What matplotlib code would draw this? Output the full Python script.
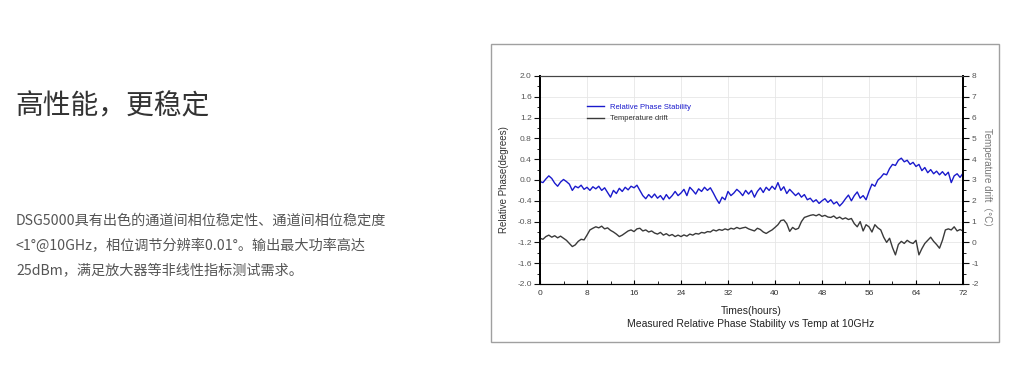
import numpy as np
import matplotlib
matplotlib.use('Agg')
import matplotlib.pyplot as plt
from matplotlib.patches import Rectangle

plt.rcParams['font.family'] = ['Liberation Sans', 'Noto Sans CJK SC', 'DejaVu Sans']
plt.rcParams['axes.unicode_minus'] = False
cjk = ['Noto Sans CJK SC', 'DejaVu Sans']

# sampled every half hour, 0..72 h
hours = np.arange(0, 72.5, 0.5)

phase = [-0.03, -0.05, 0.02, 0.08, 0.03, -0.06, -0.12, -0.04, 0.01, -0.03,
         -0.08, -0.20, -0.12, -0.15, -0.10, -0.18, -0.14, -0.20, -0.13, -0.17,
         -0.12, -0.20, -0.15, -0.24, -0.33, -0.20, -0.26, -0.16, -0.22, -0.14,
         -0.19, -0.12, -0.15, -0.10, -0.20, -0.30, -0.36, -0.28, -0.34, -0.27,
         -0.35, -0.30, -0.38, -0.28, -0.36, -0.30, -0.22, -0.30, -0.25, -0.18,
         -0.30, -0.14, -0.20, -0.27, -0.17, -0.22, -0.14, -0.20, -0.15, -0.25,
         -0.36, -0.45, -0.33, -0.38, -0.22, -0.30, -0.25, -0.18, -0.23, -0.30,
         -0.20, -0.27, -0.20, -0.33, -0.22, -0.15, -0.24, -0.14, -0.20, -0.12,
         -0.18, -0.05, -0.20, -0.13, -0.26, -0.18, -0.24, -0.30, -0.25, -0.33,
         -0.28, -0.38, -0.35, -0.42, -0.38, -0.45, -0.40, -0.36, -0.43, -0.38,
         -0.46, -0.42, -0.50, -0.44, -0.36, -0.29, -0.40, -0.30, -0.23, -0.35,
         -0.30, -0.38, -0.22, -0.08, -0.12, 0.00, 0.05, 0.12, 0.10, 0.22,
         0.30, 0.28, 0.38, 0.42, 0.35, 0.38, 0.30, 0.34, 0.26, 0.30,
         0.18, 0.24, 0.14, 0.20, 0.12, 0.17, 0.10, 0.16, 0.09, 0.15,
         -0.05, 0.08, 0.12, 0.05, 0.13]

temp = [0.20, 0.15, 0.28, 0.35, 0.25, 0.32, 0.22, 0.30, 0.20, 0.10,
        -0.05, -0.20, -0.12, 0.05, 0.15, 0.12, 0.35, 0.60, 0.68, 0.75,
        0.70, 0.78, 0.65, 0.70, 0.58, 0.50, 0.40, 0.28, 0.35, 0.45,
        0.55, 0.60, 0.52, 0.65, 0.68, 0.55, 0.60, 0.50, 0.55, 0.45,
        0.40, 0.48, 0.35, 0.42, 0.32, 0.38, 0.28, 0.35, 0.28, 0.36,
        0.30, 0.40, 0.35, 0.43, 0.40, 0.48, 0.45, 0.52, 0.50, 0.60,
        0.55, 0.62, 0.58, 0.65, 0.60, 0.68, 0.64, 0.72, 0.66, 0.70,
        0.73, 0.65, 0.60, 0.55, 0.68, 0.62, 0.50, 0.43, 0.52, 0.60,
        0.72, 0.85, 1.05, 1.08, 0.90, 0.53, 0.72, 0.62, 0.68, 1.00,
        1.20, 1.25, 1.30, 1.33, 1.28, 1.35, 1.25, 1.30, 1.22, 1.20,
        1.27, 1.15, 1.22, 1.12, 1.18, 1.10, 1.15, 0.90, 0.75, 1.00,
        0.55, 0.85, 0.75, 0.50, 0.85, 0.70, 0.60, 0.25, 0.00, 0.20,
        -0.25, -0.60, -0.10, 0.05, -0.05, 0.10, 0.00, -0.05, 0.10, -0.60,
        -0.30, -0.05, 0.10, 0.25, 0.05, -0.10, -0.28, 0.10, 0.60, 0.65,
        0.60, 0.75, 0.55, 0.62, 0.55]

fig = plt.figure(figsize=(10.2, 3.91), dpi=100)
fig.patch.set_facecolor('white')

# left-hand text block
fig.text(15/1020, 1 - 106/391, '高性能，更稳定', fontsize=20, color='#333333', va='center', ha='left', family=cjk)
body = ['DSG5000具有出色的通道间相位稳定性、通道间相位稳定度',
        '<1°@10GHz，相位调节分辨率0.01°。输出最大功率高达',
        '25dBm，满足放大器等非线性指标测试需求。']
for i, line in enumerate(body):
    fig.text(16/1020, 1 - (221 + 24.5*i)/391, line, fontsize=10.2, color='#555555', va='center', ha='left', family=cjk)

# frame around the chart image
fig.patches.append(Rectangle((491/1020, 1 - 342/391), 508/1020, 298/391, transform=fig.transFigure,
                             fill=False, edgecolor='#a0a0a0', linewidth=1.0))

ax = fig.add_axes([540/1020, 1 - 284/391, 423/1020, 208/391])
ax2 = ax.twinx()

l1, = ax.plot(hours, phase, color='#1a1acc', linewidth=1.0)
l2, = ax2.plot(hours, temp, color='#3a3a3a', linewidth=1.0)

ax.set_xlim(0, 72)
ax.set_ylim(-2.0, 2.0)
ax2.set_ylim(-2, 8)
ax.set_xticks(np.arange(0, 73, 8))
ax.set_xticks(np.arange(0, 73, 4), minor=True)
yt = np.arange(-2.0, 2.01, 0.4)
ax.set_yticks(yt)
ax.set_yticks(np.arange(-2.0, 2.01, 0.2), minor=True)
ax.set_yticklabels(['%.1f' % (round(v, 1) + 0.0) for v in yt])
ax2.set_yticks(np.arange(-2, 9, 1))
ax2.set_yticks(np.arange(-2, 8.1, 0.5), minor=True)

ax.grid(True, which='major', color='#e6e6e6', linewidth=0.6)
ax.set_axisbelow(True)

ax.tick_params(axis='y', which='major', direction='out', length=4, width=0.8, labelsize=6, colors='#111111', labelcolor='#555555', pad=2)
ax.tick_params(axis='y', which='minor', direction='out', length=2, width=0.6)
ax.tick_params(axis='x', which='major', direction='in', length=3, width=0.8, labelsize=6, labelcolor='#333333', pad=4)
ax.tick_params(axis='x', which='minor', direction='in', length=2, width=0.6)
ax2.tick_params(axis='y', which='major', direction='out', length=4, width=0.8, labelsize=6, colors='#111111', labelcolor='#555555', pad=2)
ax2.tick_params(axis='y', which='minor', direction='out', length=2, width=0.6)

for a in (ax, ax2):
    a.spines['left'].set_linewidth(1.3)
    a.spines['right'].set_linewidth(1.3)
    a.spines['bottom'].set_linewidth(0.8)
    a.spines['top'].set_linewidth(0.8)
    a.spines['top'].set_color('#444444')

ax.set_ylabel('Relative Phase(degrees)', fontsize=7, color='#333333', labelpad=6)
ax2.set_ylabel('Temperature drift（°C）', fontsize=7, color='#777777', rotation=-90, labelpad=10)
ax.set_xlabel('Times(hours)', fontsize=7.5, color='#222222', labelpad=7)
fig.text(751/1020, 1 - 324/391, 'Measured Relative Phase Stability vs Temp at 10GHz',
         fontsize=7.5, color='#222222', ha='center', va='center')

leg = ax.legend([l1, l2], ['Relative Phase Stability', 'Temperature drift'], loc='upper left',
                bbox_to_anchor=(0.095, 0.9), frameon=False, fontsize=5.5, handlelength=2.2,
                labelspacing=0.5, labelcolor=['#1a1acc', '#333333'])

fig.savefig('out.png', dpi=100, facecolor='white')
